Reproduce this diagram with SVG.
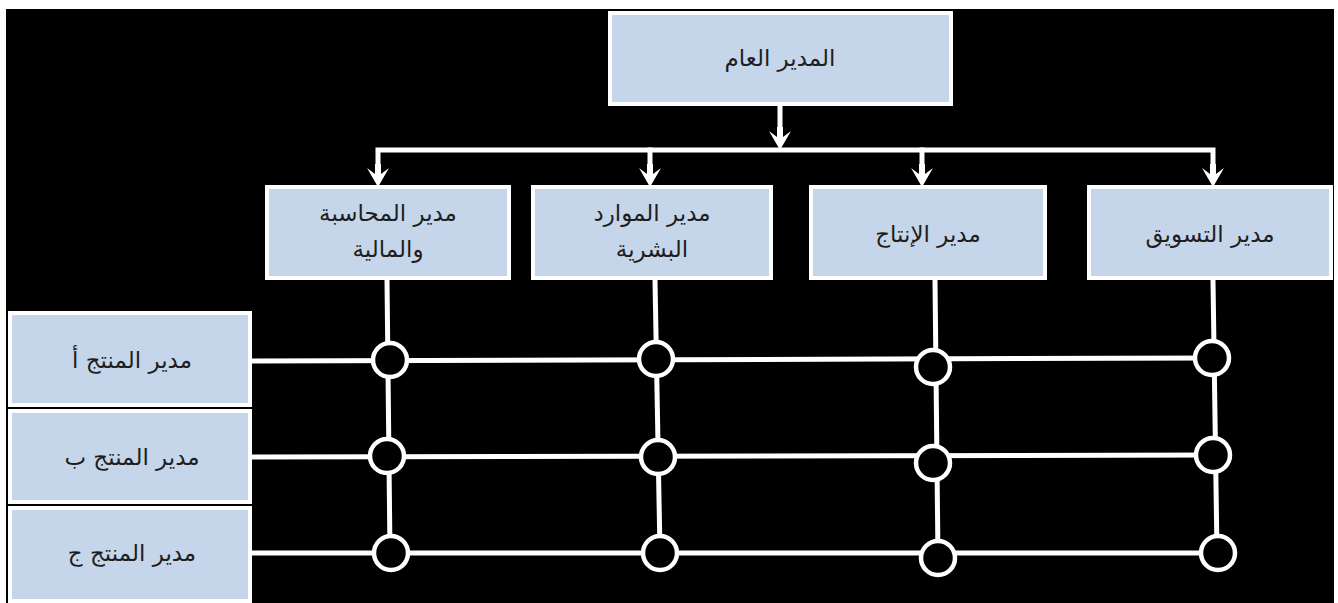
<svg xmlns="http://www.w3.org/2000/svg" width="1338" height="603" viewBox="0 0 1338 603">
<defs>
<style>
.box{fill:#c6d6ea;stroke:#ffffff;stroke-width:4}
.t{font-family:"DejaVu Sans","Noto Sans",sans-serif;font-size:23px;fill:#1e1e1e;text-anchor:middle}
.ln{stroke:#ffffff;stroke-width:5;fill:none;stroke-linecap:square}
.nd{fill:#000;stroke:#ffffff;stroke-width:4.5}
.ah{fill:#ffffff}
</style>
<path id="head" d="M-11,-19 L-3,-13 L-3,-23 L3,-23 L3,-13 L11,-19 L0,0 Z"/>
</defs>
<rect x="0" y="0" width="1338" height="603" fill="#ffffff"/>
<rect x="6" y="9" width="1328" height="594" fill="#000000"/>
<g id="connectors">
<line class="ln" x1="780" y1="106" x2="780" y2="132"/>
<use href="#head" class="ah" transform="translate(780,150)"/>
<polyline class="ln" points="378,168 378,150 1213,150 1213,168"/>
<line class="ln" x1="650" y1="150" x2="650" y2="168"/>
<line class="ln" x1="922" y1="150" x2="922" y2="168"/>
<use href="#head" class="ah" transform="translate(378,187)"/>
<use href="#head" class="ah" transform="translate(650,187)"/>
<use href="#head" class="ah" transform="translate(922,187)"/>
<use href="#head" class="ah" transform="translate(1213,187)"/>
<line class="ln" x1="387" y1="280" x2="390" y2="553"/>
<line class="ln" x1="655" y1="280" x2="660" y2="553"/>
<line class="ln" x1="935" y1="280" x2="938" y2="558"/>
<line class="ln" x1="1213" y1="280" x2="1217" y2="553"/>
<line class="ln" x1="253" y1="361" x2="1212" y2="358"/>
<line class="ln" x1="253" y1="457" x2="1213" y2="455"/>
<line class="ln" x1="253" y1="553" x2="1218" y2="553"/>
</g>
<g id="n-gm"><rect class="box" x="610" y="13" width="341" height="91"/><text class="t" x="780" y="66">المدير العام</text></g>
<g id="n-fin"><rect class="box" x="267" y="187" width="242" height="91"/><text class="t" x="388" y="221">مدير المحاسبة</text><text class="t" x="388" y="257">والمالية</text></g>
<g id="n-hr"><rect class="box" x="533" y="187" width="238" height="91"/><text class="t" x="652" y="221">مدير الموارد</text><text class="t" x="652" y="257">البشرية</text></g>
<g id="n-prod"><rect class="box" x="811" y="187" width="234" height="91"/><text class="t" x="928" y="242">مدير الإنتاج</text></g>
<g id="n-mkt"><rect class="box" x="1089" y="187" width="242" height="91"/><text class="t" x="1210" y="242">مدير التسويق</text></g>
<g id="n-pa"><rect class="box" x="10" y="313" width="240" height="92"/><text class="t" x="132" y="368">مدير المنتج أ</text></g>
<g id="n-pb"><rect class="box" x="10" y="411" width="240" height="91"/><text class="t" x="132" y="465">مدير المنتج ب</text></g>
<g id="n-pc"><rect class="box" x="10" y="508" width="240" height="93"/><text class="t" x="132" y="561">مدير المنتج ج</text></g>
<g id="junctions">
<circle class="nd" cx="390" cy="360" r="17"/>
<circle class="nd" cx="387" cy="456" r="17"/>
<circle class="nd" cx="391" cy="553" r="17"/>
<circle class="nd" cx="656" cy="359" r="17"/>
<circle class="nd" cx="658" cy="457" r="17"/>
<circle class="nd" cx="660" cy="553" r="17"/>
<circle class="nd" cx="933" cy="367" r="17"/>
<circle class="nd" cx="933" cy="463" r="17"/>
<circle class="nd" cx="938" cy="558" r="17"/>
<circle class="nd" cx="1212" cy="358" r="17"/>
<circle class="nd" cx="1213" cy="455" r="17"/>
<circle class="nd" cx="1218" cy="553" r="17"/>
</g>
</svg>
